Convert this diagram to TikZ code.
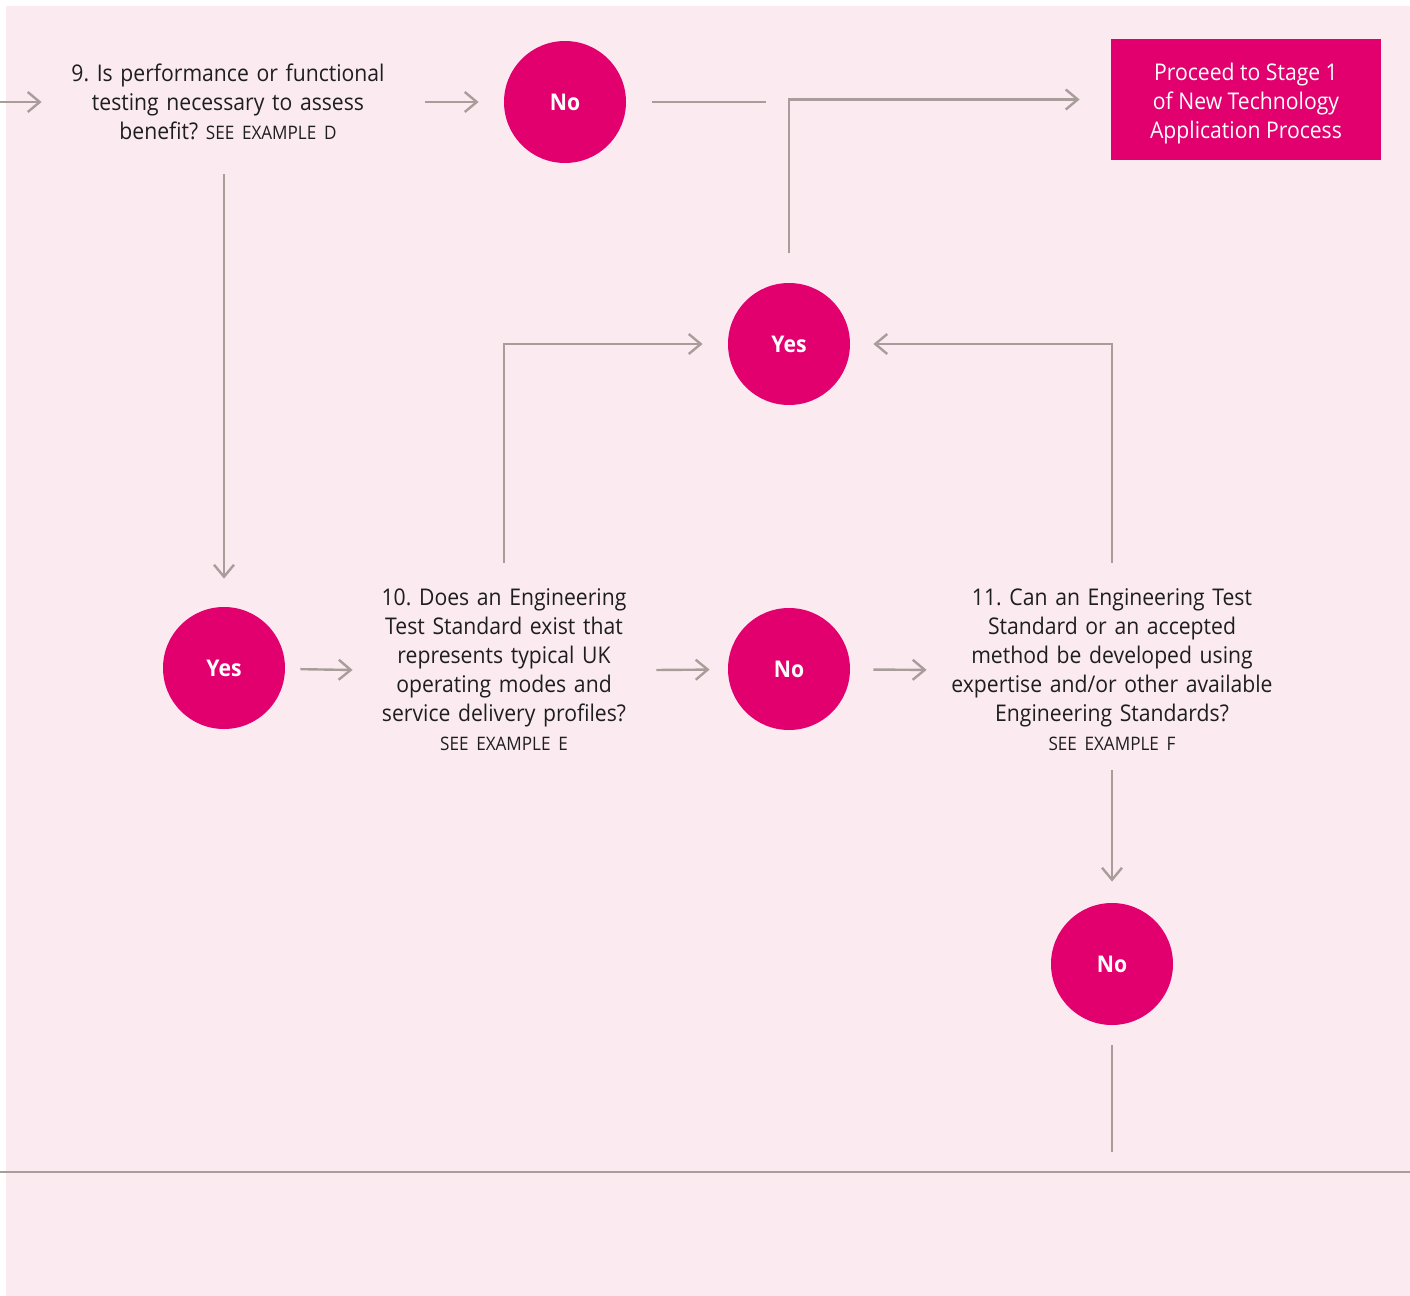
\documentclass[tikz,border=0pt]{standalone}
\usepackage{fontspec}
\setmainfont{Open Sans}[FakeStretch=0.92]
\usepackage{xcolor}
\usetikzlibrary{arrows.meta}
\tikzset{>={Straight Barb[length=6pt,width=10pt]}}
\definecolor{bgpink}{HTML}{FBEBF1}
\definecolor{flowpink}{HTML}{E2006F}
\definecolor{linegrey}{HTML}{A89D9A}
\definecolor{textgrey}{HTML}{1E1E1E}
\newcommand{\seeex}[1]{{\fontsize{9.3pt}{11pt}\selectfont SEE EXAMPLE #1}}
\frenchspacing

\begin{document}
\begin{tikzpicture}
	[x=0.5pt,y=-0.5pt,
	answer/.style={circle,fill=flowpink,text=white,inner sep=0pt,minimum size=61pt,
		font=\bfseries\fontsize{11.5pt}{14pt}\selectfont},
	question/.style={align=center,inner sep=0pt,text=textgrey,
		font=\fontsize{11.5pt}{14.5pt}\selectfont},
	target/.style={rectangle,fill=flowpink,text=white,inner sep=0pt,align=center,
		minimum width=135pt,minimum height=60.5pt,font=\fontsize{11.5pt}{14.5pt}\selectfont},
	link/.style={draw=linegrey,line width=1.2pt}]
	\useasboundingbox (0,0) rectangle (1410,1296);
	\fill [bgpink] (6,6) rectangle (1410,1296);
	% nodes
	\node [question,text width=170pt] (q9) at (228,102)
		{9. Is performance or functional\\ testing necessary to assess\\ benefit? \seeex{D}};
	\node [answer] (no1) at (565,102) {No};
	\node [target] (proceed) at (1246,99.5)
		{\rule{0pt}{12.7pt}Proceed to Stage 1\\ of New Technology\\ Application Process};
	\node [answer] (yesM) at (789,344) {Yes};
	\node [answer] (yesL) at (224,668) {Yes};
	\node [question,text width=150pt] (q10) at (504,670)
		{10. Does an Engineering\\ Test Standard exist that\\ represents typical UK\\ operating modes and\\ service delivery profiles?\\ \seeex{E}};
	\node [answer] (noM) at (789,669) {No};
	\node [question,text width=170pt] (q11) at (1112,670)
		{11. Can an Engineering Test\\ Standard or an accepted\\ method be developed using\\ expertise and/or other available\\ Engineering Standards?\\ \seeex{F}};
	\node [answer] (noB) at (1112,964) {No};
	\coordinate (inL) at (0,102);
	\coordinate (gapA) at (766,102);
	\coordinate (tailB) at (1112,1152);
	\coordinate (ruleL) at (0,1172);
	\coordinate (ruleR) at (1410,1172);
	% connectors
	\draw [link,->,shorten >=8pt] (inL) -- (q9.west);
	\draw [link,->,shorten <=13.5pt,shorten >=12.5pt] (q9.east) -- (no1);
	\draw [link,shorten <=13pt] (no1) -- (gapA);
	\draw [link,->,shorten <=15pt,shorten >=15.5pt] (yesM) |- (proceed);
	\draw [link,->,shorten <=17pt,shorten >=14pt] (q9.south -| yesL) -- (yesL);
	\draw [link,->,shorten <=7.5pt,shorten >=0.5pt] (yesL) -- (q10.west);
	\draw [link,->,shorten <=13pt,shorten >=12.5pt] (q10) |- (yesM);
	\draw [link,->,shorten <=1pt,shorten >=9pt] (q10.east) -- (noM);
	\draw [link,->,shorten <=11.5pt,shorten >=7.5pt] (noM) -- (q11.west);
	\draw [link,->,shorten <=13pt,shorten >=11.5pt] (q11) |- (yesM);
	\draw [link,->,shorten <=9.5pt,shorten >=10.5pt] (q11) -- (noB);
	\draw [link,shorten <=10pt] (noB) -- (tailB);
	\draw [link] (ruleL) -- (ruleR);
\end{tikzpicture}
\end{document}
